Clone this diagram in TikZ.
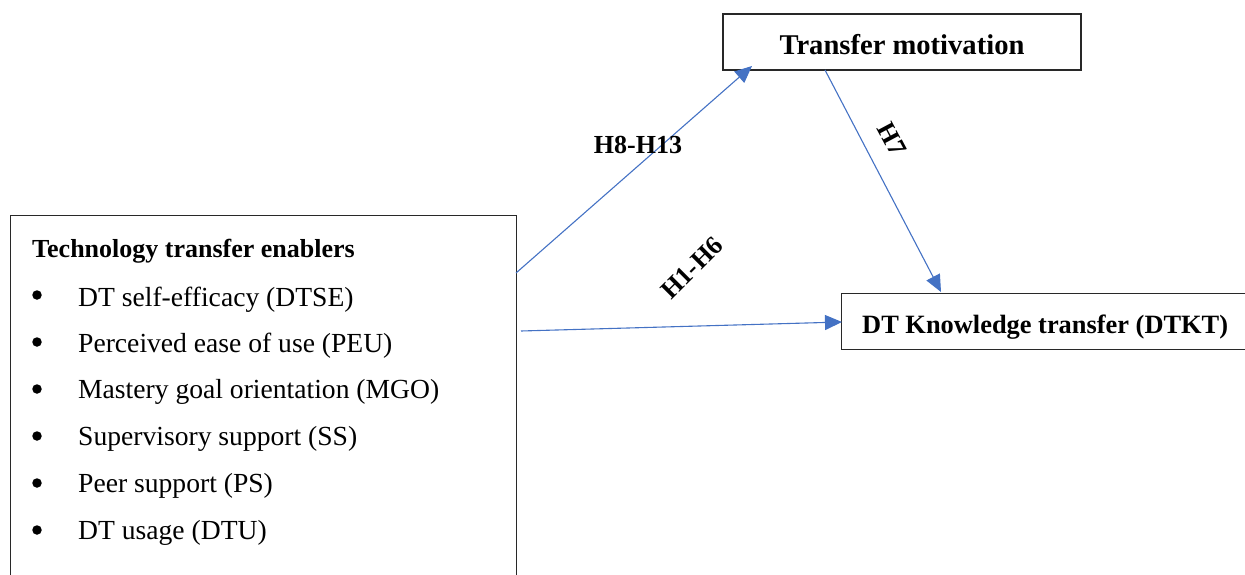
\documentclass[tikz,border=0pt]{standalone}
\usepackage{fontspec}
\setmainfont{Liberation Serif}
\usetikzlibrary{arrows.meta}
\definecolor{arrowblue}{RGB}{68,114,196}
\definecolor{boxline}{RGB}{40,40,40}
\begin{document}
\begin{tikzpicture}[x=1pt,y=-1pt,
  box/.style={draw=boxline, line width=1.3pt, rectangle, inner sep=0pt, fill=white},
  link/.style={draw=arrowblue, line width=1.1pt, -{Triangle[length=17pt,width=15pt]}},
  bold/.style={font=\fontsize{26}{30}\selectfont\bfseries, inner sep=0pt},
  entry/.style={font=\fontsize{27.6}{32}\selectfont, anchor=base west, inner sep=0pt},
  dot/.style={circle, fill=black, inner sep=0pt, minimum size=9.5pt}]
\useasboundingbox (0,0) rectangle (1245,575);
% boxes
\node[box, minimum width=358pt, minimum height=56pt] (tm) at (902,42) {};
\node[bold, font=\fontsize{28.6}{32}\selectfont\bfseries, anchor=base] (tmtext) at (902,55) {Transfer motivation};
\node[box, anchor=north west, minimum width=440pt, minimum height=56pt] (kt) at (841,293) {};
\node[bold, font=\fontsize{26.4}{30}\selectfont\bfseries, anchor=base west] (kttext) at (862,333) {DT Knowledge transfer (DTKT)};
\node[box, anchor=north west, minimum width=506pt, minimum height=400pt] (en) at (10,215) {};
\node[bold, anchor=base west] (entitle) at (32,257) {Technology transfer enablers};
% list
\node[dot] (b1) at (37,295) {};
\node[entry] (e1) at (78,306) {DT self-efficacy (DTSE)};
\node[dot] (b2) at (37,342) {};
\node[entry] (e2) at (78,352) {Perceived ease of use (PEU)};
\node[dot] (b3) at (37,389) {};
\node[entry] (e3) at (78,398) {Mastery goal orientation (MGO)};
\node[dot] (b4) at (37,436) {};
\node[entry] (e4) at (78,445) {Supervisory support (SS)};
\node[dot] (b5) at (37,483) {};
\node[entry] (e5) at (78,492) {Peer support (PS)};
\node[dot] (b6) at (37,530) {};
\node[entry] (e6) at (78,539) {DT usage (DTU)};
% connector endpoints
\coordinate (s1) at (516,273);
\coordinate (t1) at (752,66);
\coordinate (s2) at (521,331);
\coordinate (t2) at (842,322);
\coordinate (s3) at (825,70);
\coordinate (t3) at (941,292);
\draw[link] (s1) -- (t1);
\draw[link] (s2) -- (t2);
\draw[link] (s3) -- (t3);
% labels
\node[bold] (l1) at (638,145) {H8-H13};
\node[bold, rotate=45] (l2) at (692,268) {H1-H6};
\node[bold, rotate=-62] (l3) at (892,139) {H7};
\end{tikzpicture}
\end{document}
